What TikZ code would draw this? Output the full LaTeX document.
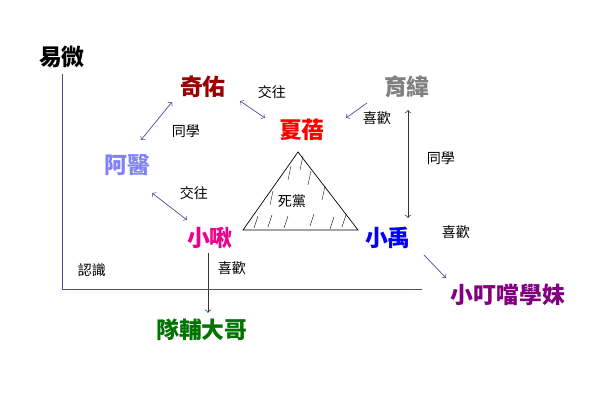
\documentclass[tikz,border=0pt]{standalone}
\usepackage{fontspec}
\newfontfamily\cjk{Noto Sans CJK TC}
\usetikzlibrary{arrows}
\tikzset{
  person/.style={font=\cjk\bfseries\fontsize{13}{13}\selectfont},
  rel/.style={font=\cjk\fontsize{8}{8}\selectfont},
  link/.style={draw=blue!40!black!70,thin,>=to},
  dark/.style={draw=black!80,thin,>=to}
}
\begin{document}
\begin{tikzpicture}[x=0.02cm,y=-0.02cm]
\useasboundingbox (0,0) rectangle (600,408);
  % people
  \node[person] (yw) at (62,57) {易微};
  \node[person,text=red!60!black] (qy) at (203,87) {奇佑};
  \node[person,text=red] (xb) at (302,130) {夏蓓};
  \node[person,text=black!50] (yu) at (407,87) {育緯};
  \node[person,text=blue!50] (ay) at (127,165) {阿醫};
  \node[person,text=magenta] (xj) at (210,238) {小啾};
  \node[person,text=blue] (xy) at (388,238) {小禹};
  \node[person,text=green!45!black] (df) at (202,330) {隊輔大哥};
  \node[person,text=violet] (xd) at (508,295) {小叮噹學妹};
  % relations
  \node[rel] (r1) at (272,92) {交往};
  \node[rel] (r2) at (186,131) {同學};
  \node[rel] (r3) at (194,193) {交往};
  \node[rel] (r4) at (377,118) {喜歡};
  \node[rel] (r5) at (441,158) {同學};
  \node[rel] (r6) at (456,232) {喜歡};
  \node[rel] (r7) at (232,268) {喜歡};
  \node[rel] (r8) at (92,270) {認識};
  % triangle
  \draw[thin] (243,230) -- (298,152) -- (358,230) -- cycle;
  \foreach \a/\b in {254/228,268/227,284/228,310/226,330/229,342/227}
    \draw[very thin] (\a,\b) -- ++(4,-12);
  \foreach \a/\b in {288/180,300/170,308/185,322/200,270/205}
    \draw[very thin] (\a,\b) -- ++(3,-14);
  \node[rel,fill=white,inner sep=1pt] (sd) at (292,201) {死黨};
  % connectors
  \coordinate (c1) at (172,102);
  \coordinate (c2) at (141,140);
  \draw[link,<->] (c1) -- (c2);
  \coordinate (c3) at (240,101);
  \coordinate (c4) at (265,118);
  \draw[link,<->] (c3) -- (c4);
  \coordinate (c5) at (152,193);
  \coordinate (c6) at (187,220);
  \draw[link,<->] (c5) -- (c6);
  \coordinate (c7) at (367,103);
  \coordinate (c8) at (346,118);
  \draw[link,->] (c7) -- (c8);
  \coordinate (c9) at (424,255);
  \coordinate (c10) at (446,278);
  \draw[link,->] (c9) -- (c10);
  \coordinate (c11) at (408,110);
  \coordinate (c12) at (408,218);
  \draw[dark,<->] (c11) -- (c12);
  \coordinate (c14) at (208,253);
  \draw[dark,->] (c14) -- (c14 |- df.north);
  \coordinate (c13) at (422,289);
  \draw[link] (yw.south) |- (c13);
\end{tikzpicture}
\end{document}
